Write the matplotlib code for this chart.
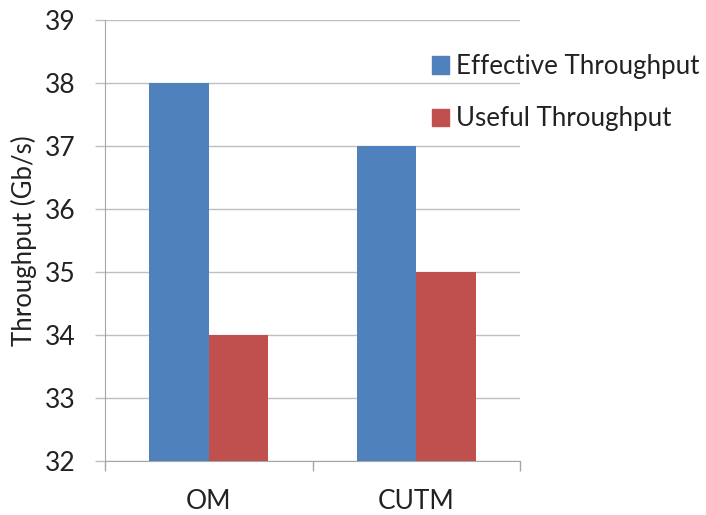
import matplotlib
matplotlib.use("Agg")
import matplotlib.pyplot as plt
import numpy as np
from matplotlib.patches import Patch

categories = ["OM", "CUTM"]
effective = [38, 37]
useful = [34, 35]
series_names = ["Effective Throughput", "Useful Throughput"]
yticks = [32, 33, 34, 35, 36, 37, 38, 39]

plt.rcParams['font.family'] = ['Lato', 'DejaVu Sans']

fig = plt.figure(figsize=(7.06, 5.15), dpi=100)
ax = fig.add_axes([105/706, 1-461/515, (520-105)/706, (461-20)/515])

blue = "#4F81BD"
red = "#C0504D"
x = np.arange(len(categories))
w = 0.2857
ax.bar(x - w/2, np.array(effective) - 32, w, bottom=32, color=blue, zorder=3)
ax.bar(x + w/2, np.array(useful) - 32, w, bottom=32, color=red, zorder=3)

ax.set_xlim(-0.5, 1.5)
ax.set_ylim(32, 39)
ax.set_yticks(yticks)
ax.set_yticklabels([str(v) for v in yticks])
ax.yaxis.grid(True, color="#BFBFBF", linewidth=1.0, zorder=0)
ax.set_axisbelow(True)

ax.set_xticks(x)
ax.set_xticklabels(categories)
ax.set_xticks([-0.5, 0.5, 1.5], minor=True)
ax.tick_params(axis='x', which='major', length=0, pad=20, labelsize=19, colors="#222222")
ax.tick_params(axis='x', which='minor', length=7, color="#A6A6A6", width=1)
ax.tick_params(axis='y', which='major', length=7, color="#BFBFBF", width=1, pad=14, labelsize=19, labelcolor="#222222")

for s in ['top', 'right']:
    ax.spines[s].set_visible(False)
ax.spines['left'].set_color("#A6A6A6")
ax.spines['bottom'].set_color("#A6A6A6")

ax.set_ylabel("Throughput (Gb/s)", fontsize=18.5, color="#222222", labelpad=6)

handles = [Patch(color=blue), Patch(color=red)]
fig.legend(handles, series_names, loc='upper left', bbox_to_anchor=(409/706, 1-31/515),
           frameon=False, fontsize=18.6, handlelength=0.66, handleheight=0.66,
           handletextpad=0.25, labelspacing=1.05, labelcolor="#222222")

fig.savefig("out.png", dpi=100, facecolor="white")
